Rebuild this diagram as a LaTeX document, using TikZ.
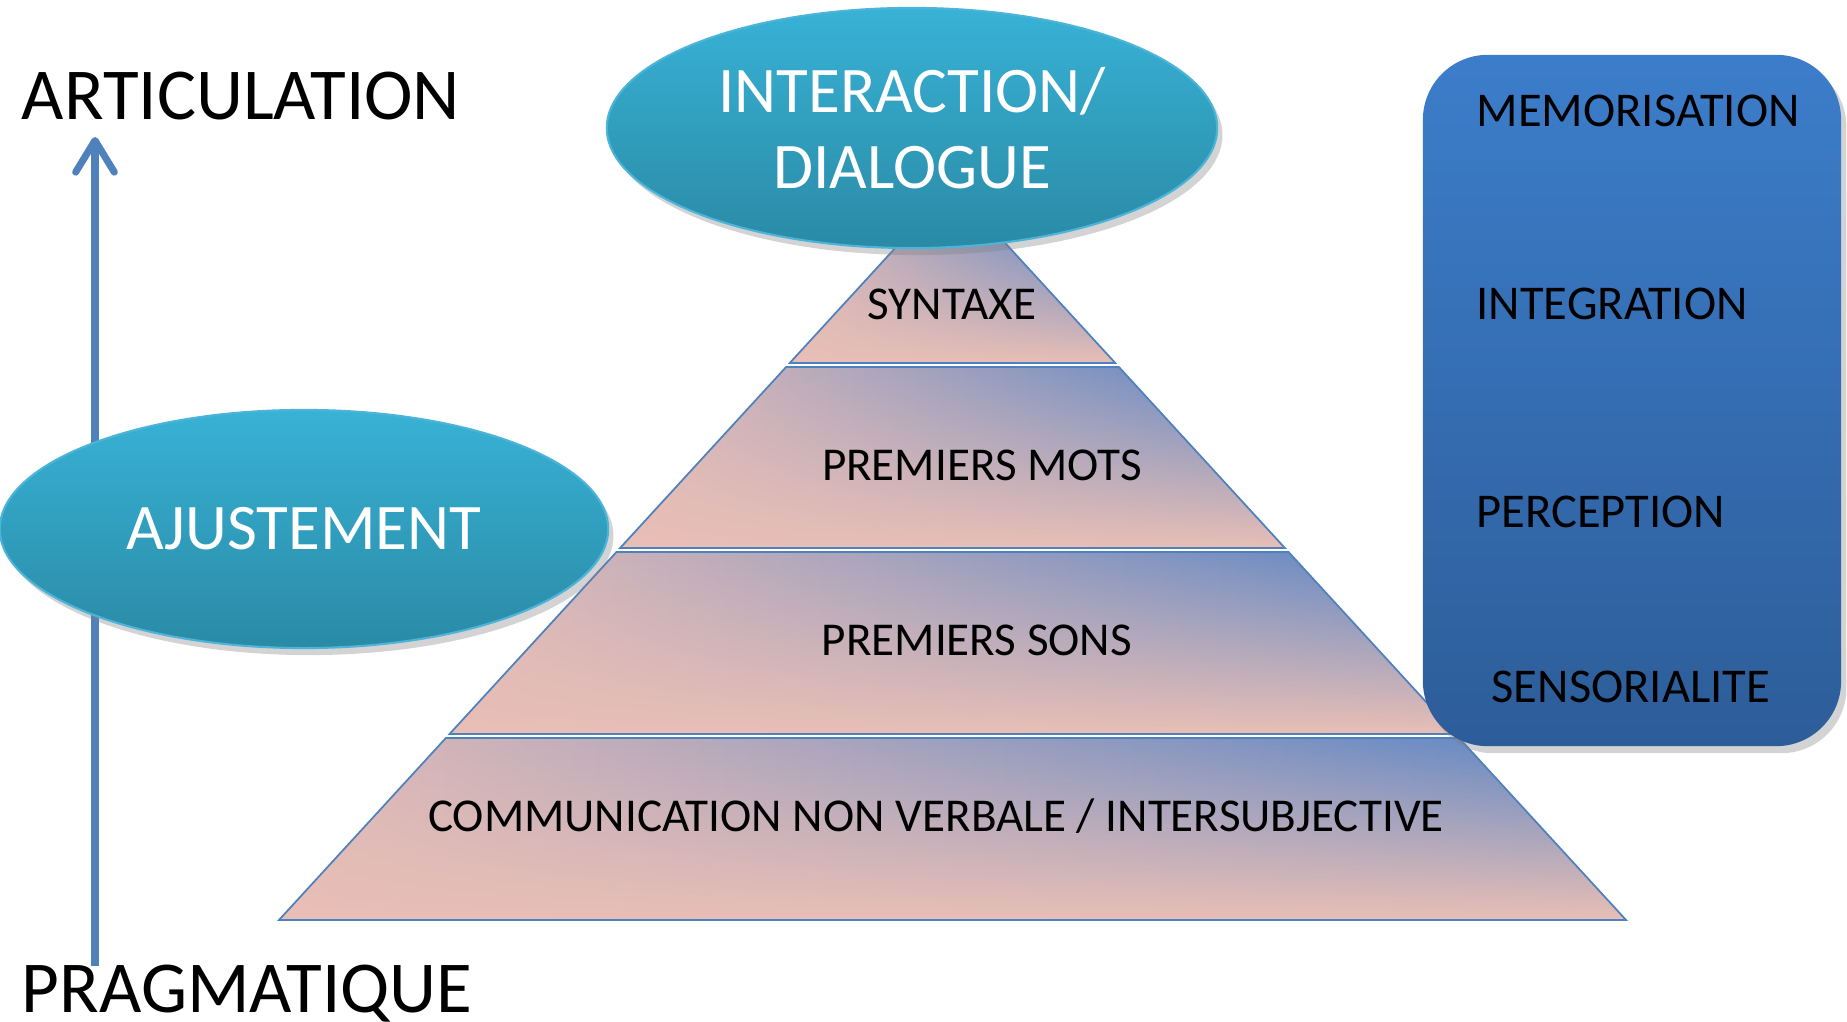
\documentclass[tikz,border=0pt]{standalone}
\usepackage{fontspec}
\setmainfont{Carlito}
\usetikzlibrary{shapes.geometric, arrows.meta, shadings, shadows, fadings}

\definecolor{arrowblue}{HTML}{4F81BD}
\definecolor{bubbletop}{HTML}{38B2D6}
\definecolor{bubblebot}{HTML}{2A8AA5}
\definecolor{bubbleline}{HTML}{4BB4D8}
\definecolor{boxtop}{HTML}{3C7DCA}
\definecolor{boxbot}{HTML}{2D5D99}
\definecolor{bandpink}{HTML}{E9BFB6}
\definecolor{bandleft}{HTML}{E0BAB8}
\definecolor{bandmauve}{HTML}{A9A1BF}
\definecolor{bandblue}{HTML}{5985C6}

\tikzfading[name=bandfade, top color=transparent!100, middle color=transparent!88, bottom color=transparent!0]

\tikzstyle{bubble} = [ellipse, draw=bubbleline, line width=0.6pt, top color=bubbletop, bottom color=bubblebot, text=white, align=center, font=\fontsize{18.5}{21.6}\selectfont, drop shadow={shadow xshift=1.5pt, shadow yshift=-2pt, opacity=0.35}]
\tikzstyle{bandshade} = [left color=bandleft, middle color=bandmauve, right color=bandblue, postaction={fill=bandpink, path fading=bandfade}]
\tikzstyle{bandline} = [draw=arrowblue, line width=0.5pt]
\tikzstyle{bandtext} = [anchor=base, inner sep=0pt, font=\fontsize{13.4}{16}\selectfont]
\tikzstyle{boxtext} = [anchor=base west, inner sep=0pt, font=\fontsize{13.8}{16}\selectfont]
\tikzstyle{bigword} = [anchor=base west, inner sep=0pt, font=\fontsize{20.8}{24}\selectfont]
\tikzstyle{arrow} = [line width=2pt, draw=arrowblue, -{Straight Barb[length=9pt, width=11pt, round]}]

% one layer of the pyramid: name, top y, bottom y
\newcommand{\pyrband}[3]{%
  \coordinate (#1SW) at ({279+(920-#3)*0.917},#3);
  \coordinate (#1SE) at ({1626-(920-#3)*0.917},#3);
  \coordinate (#1NE) at ({1626-(920-#2)*0.917},#2);
  \coordinate (#1NW) at ({279+(920-#2)*0.917},#2);
  \path[bandshade] (#1SW) -- (#1SE) -- (#1NE) -- (#1NW) -- cycle;
  \draw[bandline] (#1SW) -- (#1SE) -- (#1NE) -- (#1NW) -- cycle;
}

\begin{document}
\begin{tikzpicture}[x=0.01cm, y=-0.01cm]

    \useasboundingbox (0,0) rectangle (1847,1022);

    % Arrow
    \coordinate (arrowFoot) at (95,966);
    \coordinate (arrowTip) at (95,137);
    \draw [arrow] (arrowFoot) -- (arrowTip);

    % Pyramid
    \pyrband{communication}{738}{920}
    \pyrband{sons}{552}{734}
    \pyrband{mots}{367}{548}
    \pyrband{syntaxe}{230}{363}

    \node (communicationText) [bandtext] at (936,832) {COMMUNICATION NON VERBALE / INTERSUBJECTIVE};
    \node (sonsText) [bandtext] at (977,656) {PREMIERS SONS};
    \node (motsText) [bandtext] at (982,481) {PREMIERS MOTS};
    \node (syntaxeText) [bandtext] at (952,320) {SYNTAXE};

    % Bubbles
    \node (ajustement) [bubble, minimum width=6.08cm, minimum height=2.38cm] at (304,529) {AJUSTEMENT};
    \node (interaction) [bubble, minimum width=6.1cm, minimum height=2.4cm] at (912,128) {INTERACTION/\\DIALOGUE};

    % Box
    \node (memoBox) [rectangle, rounded corners=0.65cm, minimum width=4.18cm, minimum height=6.91cm, top color=boxtop, bottom color=boxbot, drop shadow={shadow xshift=1.5pt, shadow yshift=-2pt, opacity=0.35}] at (1632,400.5) {};
    \node (memorisation) [boxtext] at (1476,127) {MEMORISATION};
    \node (integration) [boxtext] at (1476,320) {INTEGRATION};
    \node (perception) [boxtext] at (1476,528) {PERCEPTION};
    \node (sensorialite) [boxtext] at (1491,703) {SENSORIALITE};

    % Axis words
    \node (articulation) [bigword] at (21,120) {ARTICULATION};
    \node (pragmatique) [bigword] at (21,1013) {PRAGMATIQUE};

\end{tikzpicture}
\end{document}
